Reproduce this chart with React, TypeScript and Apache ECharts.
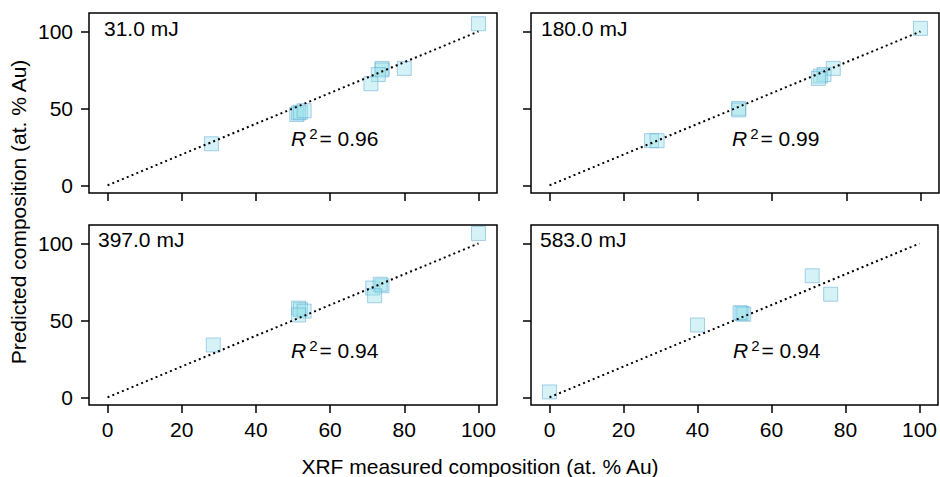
import React, { useEffect, useRef } from "react";
import * as echarts from "echarts";

const panelTitles = ["31.0 mJ", "180.0 mJ", "397.0 mJ", "583.0 mJ"];
const r2Values = ["0.96", "0.99", "0.94", "0.94"];

const data31: number[][] = [
  [100, 105], [74, 76], [74, 75], [73, 72], [71, 66], [80, 76],
  [51, 46], [51.5, 47], [52, 47.5], [53, 48.5], [28, 27],
];
const data180: number[][] = [
  [100, 102], [76.5, 76], [74, 72], [73, 71], [72.5, 69.5],
  [51, 50], [51, 49], [27.5, 29], [29, 29],
];
const data397: number[][] = [
  [100, 106.5], [71.5, 71], [74, 72.5], [73.5, 73.5], [72, 66],
  [51.5, 58], [52, 57], [53, 56], [51.5, 53.5], [28.5, 34],
];
const data583: number[][] = [
  [0, 3.5], [40, 47], [52, 54.5], [52.5, 54], [51.5, 55], [71, 79], [76, 67],
];
const panelData = [data31, data180, data397, data583];

const refLine: number[][] = [[0, 0], [100, 100]];
const xTicks = [0, 20, 40, 60, 80, 100];
const yTicks = [0, 50, 100];

const FONT = "Liberation Sans, Arial, sans-serif";

export default function App() {
  const ref = useRef<HTMLDivElement>(null);
  useEffect(() => {
    document.body.style.margin = "0";
    const chart = echarts.init(ref.current!, null, { renderer: "svg" });
    const lefts = [89, 531, 89, 531];
    const tops = [13, 13, 225, 225];
    const W = 408;
    const H = 180;
    const grids = lefts.map((l, i) => ({
      left: l,
      top: tops[i],
      width: W,
      height: H,
      show: true,
      borderColor: "#000",
      borderWidth: 1.5,
      backgroundColor: "transparent",
    }));
    const tickStyle = { color: "#000", width: 1.5 };
    const xAxes = grids.map((_, i) => ({
      type: "value",
      gridIndex: i,
      position: "bottom",
      min: -5,
      max: 105,
      axisLine: { show: false, onZero: false },
      splitLine: { show: false },
      axisTick: { show: true, customValues: xTicks, length: 8, inside: false, lineStyle: tickStyle },
      axisLabel: {
        show: i >= 2,
        customValues: xTicks,
        fontSize: 21,
        color: "#000",
        fontFamily: FONT,
        margin: 14,
      },
    }));
    const yAxes = grids.map((_, i) => ({
      type: "value",
      gridIndex: i,
      position: "left",
      min: -5,
      max: 112,
      axisLine: { show: false, onZero: false },
      splitLine: { show: false },
      axisTick: { show: true, customValues: yTicks, length: 8, inside: false, lineStyle: tickStyle },
      axisLabel: {
        show: i % 2 === 0,
        customValues: yTicks,
        fontSize: 21,
        color: "#000",
        fontFamily: FONT,
        margin: 16,
      },
    }));
    const series: any[] = [];
    panelData.forEach((d, i) => {
      series.push({
        type: "scatter",
        xAxisIndex: i,
        yAxisIndex: i,
        data: d,
        symbol: "rect",
        symbolSize: 14,
        itemStyle: {
          color: "rgba(150,225,232,0.5)",
          borderColor: "rgba(80,160,210,0.6)",
          borderWidth: 1,
        },
        z: 2,
      });
      series.push({
        type: "line",
        xAxisIndex: i,
        yAxisIndex: i,
        data: refLine,
        symbol: "none",
        lineStyle: { color: "#000", width: 2, type: [2, 3.2] },
        z: 3,
      });
    });
    const titlePos = [
      [104, 28], [541, 28], [98, 239], [540, 239],
    ];
    const r2Pos = [
      [291, 138], [732, 138], [291, 350], [733, 350],
    ];
    const graphics: any[] = [];
    panelTitles.forEach((t, i) => {
      graphics.push({
        type: "text",
        x: titlePos[i][0],
        y: titlePos[i][1],
        style: {
          text: t,
          fontSize: 21,
          fontFamily: FONT,
          fill: "#000",
          align: "left",
          verticalAlign: "middle",
        },
        z: 10,
      });
    });
    r2Values.forEach((v, i) => {
      graphics.push({
        type: "text",
        x: r2Pos[i][0],
        y: r2Pos[i][1],
        style: {
          text: "{r|R}{s|2}{n|= " + v + "}",
          align: "left",
          verticalAlign: "middle",
          rich: {
            r: { fontSize: 21, fontStyle: "italic", fontFamily: FONT, fill: "#000", lineHeight: 24 },
            s: { fontSize: 15, fontFamily: FONT, fill: "#000", verticalAlign: "top", lineHeight: 16, padding: [0, 2, 0, 3] },
            n: { fontSize: 21, fontFamily: FONT, fill: "#000", lineHeight: 24 },
          },
        },
        z: 10,
      });
    });
    graphics.push({
      type: "text",
      x: 480,
      y: 466,
      style: {
        text: "XRF measured composition (at. % Au)",
        fontSize: 21,
        fontFamily: FONT,
        fill: "#000",
        align: "center",
        verticalAlign: "middle",
      },
    });
    graphics.push({
      type: "text",
      x: 18,
      y: 212,
      rotation: Math.PI / 2,
      style: {
        text: "Predicted composition (at. % Au)",
        fontSize: 21,
        fontFamily: FONT,
        fill: "#000",
        align: "center",
        verticalAlign: "middle",
      },
    });
    chart.setOption({
      animation: false,
      backgroundColor: "#fff",
      grid: grids,
      xAxis: xAxes,
      yAxis: yAxes,
      series,
      graphic: graphics,
    });
    return () => chart.dispose();
  }, []);
  return <div ref={ref} style={{ width: 940, height: 477 }} />;
}
